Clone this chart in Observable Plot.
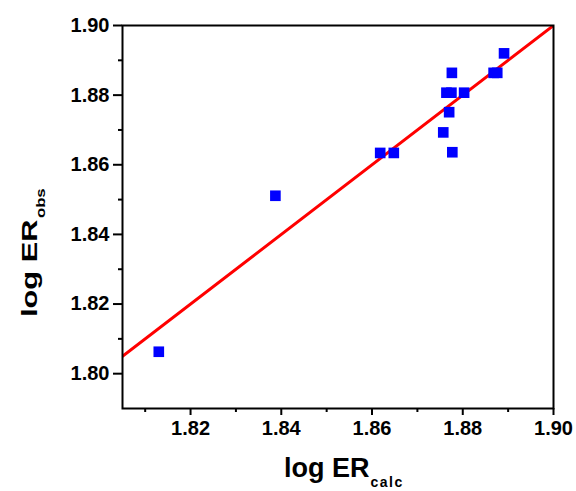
<!DOCTYPE html>
<html>
<head>
<meta charset="utf-8">
<script src="https://cdn.jsdelivr.net/npm/d3@7"></script>
<script src="https://cdn.jsdelivr.net/npm/@observablehq/plot@0.6"></script>
<style>
  html, body { margin: 0; padding: 0; background: #fff; }
  #chart svg { display: block; }
</style>
</head>
<body>
<div id="chart"></div>
<script>
// Observed vs calculated log ER
const logERcalc = [1.8130, 1.8387, 1.8618, 1.8648, 1.8764, 1.8775, 1.8803, 1.8776, 1.8868, 1.8876, 1.8891, 1.8770, 1.8757, 1.8777];
const logERobs  = [1.8063, 1.8511, 1.8634, 1.8634, 1.8807, 1.8807, 1.8807, 1.8864, 1.8864, 1.8864, 1.8920, 1.8751, 1.8693, 1.8636];

// fitted line (y = x)
const fitX = [1.805, 1.90];
const fitY = [1.805, 1.90];

const xTicks = [1.82, 1.84, 1.86, 1.88, 1.90];
const xMinor = [1.81, 1.83, 1.85, 1.87, 1.89];
const yTicks = [1.80, 1.82, 1.84, 1.86, 1.88, 1.90];
const yMinor = [1.81, 1.83, 1.85, 1.87, 1.89];

const points = logERcalc.map((x, i) => ({x, y: logERobs[i]}));
const fit = fitX.map((x, i) => ({x, y: fitY[i]}));

const FONT = "'Liberation Sans', Arial, sans-serif";

const chart = Plot.plot({
  width: 576,
  height: 491,
  marginLeft: 122,
  marginRight: 23,
  marginTop: 25,
  marginBottom: 83,
  style: {fontFamily: FONT, fontSize: "20px", fontWeight: "bold", color: "#000", background: "#fff"},
  x: {domain: [1.805, 1.90]},
  y: {domain: [1.79, 1.90]},
  marks: [
    Plot.axisX({ticks: xTicks, tickFormat: d => d.toFixed(2), tickSize: 7, tickPadding: 5, stroke: "#000", strokeWidth: 2, fill: "#000", fontWeight: "bold", fontSize: 20, label: null}),
    Plot.axisX({ticks: xMinor, tickFormat: () => "", tickSize: 4, stroke: "#000", strokeWidth: 2, label: null}),
    Plot.axisY({ticks: yTicks, tickFormat: d => d.toFixed(2), tickSize: 9, tickPadding: 4, stroke: "#000", strokeWidth: 2, fill: "#000", fontWeight: "bold", fontSize: 20, label: null}),
    Plot.axisY({ticks: yMinor, tickFormat: () => "", tickSize: 4, stroke: "#000", strokeWidth: 2, label: null}),
    Plot.line(fit, {x: "x", y: "y", stroke: "#ff0000", strokeWidth: 3, clip: true}),
    Plot.dot(points, {x: "x", y: "y", symbol: "square", r: 6, fill: "#0000ff", stroke: "none"}),
    Plot.frame({stroke: "#000", strokeWidth: 2})
  ]
});

document.getElementById("chart").appendChild(chart);

const svg = d3.select(chart);
// x axis title
const xt = svg.append("text")
  .attr("x", 284).attr("y", 477)
  .attr("text-anchor", "start")
  .attr("font-size", 27).attr("font-weight", "bold").attr("fill", "#000")
  .attr("font-family", FONT);
xt.append("tspan").text("log ER");
xt.append("tspan").attr("font-size", 14).attr("dy", 10).attr("dx", 1).attr("letter-spacing", 1.5).text("calc");

// y axis title
const yt = svg.append("text")
  .attr("transform", "translate(37,317) rotate(-90) scale(1.4,1)")
  .attr("text-anchor", "start")
  .attr("font-size", 22).attr("font-weight", "bold").attr("fill", "#000")
  .attr("font-family", FONT);
yt.append("tspan").text("log ER");
yt.append("tspan").attr("font-size", 12).attr("dy", 8).attr("dx", 1).text("obs");
</script>
</body>
</html>
